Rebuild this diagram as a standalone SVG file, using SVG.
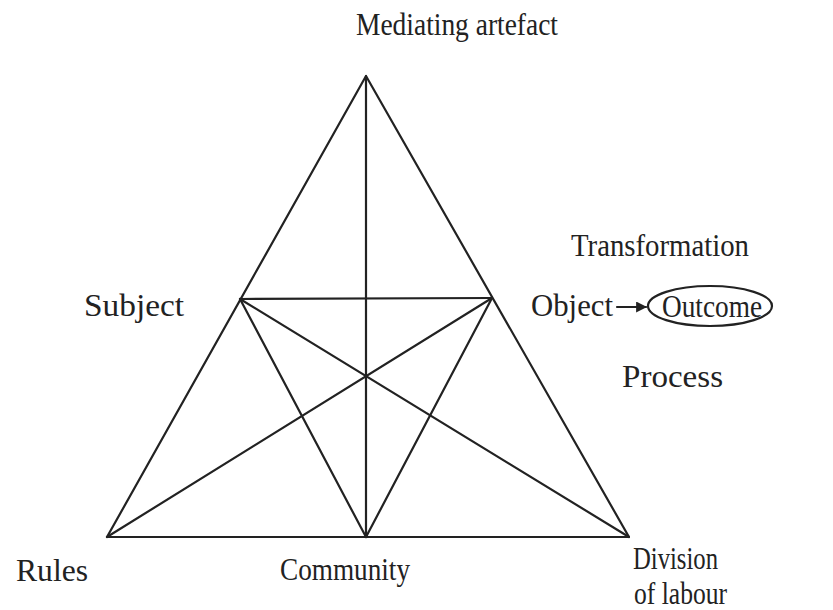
<svg xmlns="http://www.w3.org/2000/svg" width="833" height="610" viewBox="0 0 833 610">
<style>
.t{font-family:"Liberation Serif","Times New Roman",serif;font-size:32px;fill:#222}
.e{stroke:#222;stroke-width:2.2;fill:none;stroke-linecap:round;stroke-linejoin:round}
</style>
<defs>
<marker id="ah" viewBox="0 0 10 10" refX="9" refY="5" markerWidth="11" markerHeight="11" markerUnits="userSpaceOnUse" orient="auto">
<path d="M0,0 L10,5 L0,10 z" fill="#222"/>
</marker>
</defs>
<rect width="833" height="610" fill="#fff"/>
<g id="connectors">
<path class="e" d="M366,76 L107,537 L629,537 Z"/>
<line class="e" x1="366" y1="76" x2="366" y2="537"/>
<line class="e" x1="240" y1="299" x2="492" y2="298"/>
<line class="e" x1="240" y1="299" x2="366" y2="537"/>
<line class="e" x1="240" y1="299" x2="629" y2="537"/>
<line class="e" x1="492" y1="298" x2="107" y2="537"/>
<line class="e" x1="492" y1="298" x2="366" y2="537"/>
<line class="e" x1="617" y1="307" x2="646" y2="307" marker-end="url(#ah)"/>
</g>
<g id="mediating"><text class="t" x="356" y="35" textLength="202" lengthAdjust="spacingAndGlyphs">Mediating artefact</text></g>
<g id="transformation"><text class="t" x="571" y="256" textLength="178" lengthAdjust="spacingAndGlyphs">Transformation</text></g>
<g id="subject"><text class="t" x="84" y="316" textLength="100" lengthAdjust="spacingAndGlyphs">Subject</text></g>
<g id="object"><text class="t" x="531" y="316" textLength="82" lengthAdjust="spacingAndGlyphs">Object</text></g>
<g id="outcome"><ellipse class="e" cx="710" cy="306" rx="62" ry="20"/><text class="t" x="662" y="317" textLength="100" lengthAdjust="spacingAndGlyphs">Outcome</text></g>
<g id="process"><text class="t" x="622" y="387" textLength="101" lengthAdjust="spacingAndGlyphs">Process</text></g>
<g id="rules"><text class="t" x="16" y="581" textLength="72" lengthAdjust="spacingAndGlyphs">Rules</text></g>
<g id="community"><text class="t" x="280" y="580" textLength="130" lengthAdjust="spacingAndGlyphs">Community</text></g>
<g id="division"><text class="t" x="633" y="569" textLength="85" lengthAdjust="spacingAndGlyphs">Division</text><text class="t" x="634" y="604" textLength="93" lengthAdjust="spacingAndGlyphs">of labour</text></g>
</svg>
